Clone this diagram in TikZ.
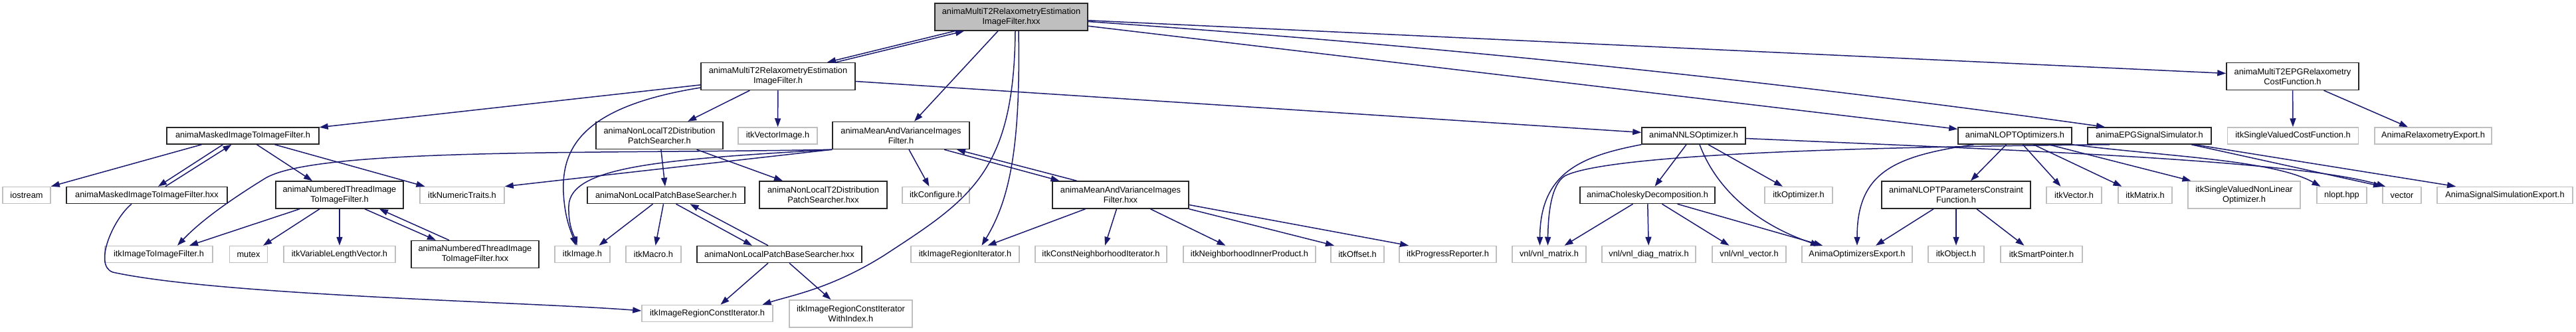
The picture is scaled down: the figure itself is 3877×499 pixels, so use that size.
\documentclass[tikz,border=0pt]{standalone}
\usepackage{fontspec}
\setmainfont{Liberation Sans}
\usetikzlibrary{arrows.meta,positioning}
\definecolor{edgeblue}{HTML}{191970}
\definecolor{nodegray}{HTML}{BFBFBF}

\begin{document}
\begin{tikzpicture}[x=1pt, y=-1pt,
  file/.style={rectangle, draw=black!85, line width=1.5pt, fill=white,
    font=\fontsize{12.8}{15}\selectfont, align=center, inner sep=0pt,
    minimum height=25pt},
  ext/.style={file, draw=nodegray},
  cur/.style={file, fill=nodegray},
  two/.style={minimum height=41pt},
  arr/.style={-{Triangle[length=13pt, width=9pt]}, draw=edgeblue, line width=1.5pt}
]
  \path[use as bounding box, fill=white] (0,0) rectangle (3877,499);

  \node[cur, two, minimum width=230] (hxx) at (1522,25.5) {animaMultiT2RelaxometryEstimation\\ImageFilter.hxx};
  \node[file, two, minimum width=232] (filt) at (1171,115) {animaMultiT2RelaxometryEstimation\\ImageFilter.h};
  \node[file, two, minimum width=199] (cost) at (3450.5,115) {animaMultiT2EPGRelaxometry\\CostFunction.h};

  \node[file, minimum width=229] (mask) at (365.5,204.5) {animaMaskedImageToImageFilter.h};
  \node[file, two, minimum width=191] (t2ps) at (992.5,204) {animaNonLocalT2Distribution\\PatchSearcher.h};
  \node[ext, minimum width=119] (vimg) at (1170.5,204.5) {itkVectorImage.h};
  \node[file, two, minimum width=206] (mav) at (1356,204) {animaMeanAndVarianceImages\\Filter.h};
  \node[file, minimum width=156] (nnls) at (2549,204.5) {animaNNLSOptimizer.h};
  \node[file, minimum width=171] (nlopt) at (3032.5,204.5) {animaNLOPTOptimizers.h};
  \node[file, minimum width=186] (epg) at (3235,204.5) {animaEPGSignalSimulator.h};
  \node[ext, minimum width=197] (svcf) at (3451,204.5) {itkSingleValuedCostFunction.h};
  \node[ext, minimum width=176] (relexp) at (3662,204.5) {AnimaRelaxometryExport.h};

  \node[ext, minimum width=72] (iostr) at (40,294) {iostream};
  \node[file, minimum width=242] (maskx) at (221,294) {animaMaskedImageToImageFilter.hxx};
  \node[file, two, minimum width=192] (numth) at (511,293.5) {animaNumberedThreadImage\\ToImageFilter.h};
  \node[ext, minimum width=127] (ntraits) at (695.5,294) {itkNumericTraits.h};
  \node[file, minimum width=237] (nlpbs) at (1002.5,294) {animaNonLocalPatchBaseSearcher.h};
  \node[file, two, minimum width=192] (t2psx) at (1239,293.5) {animaNonLocalT2Distribution\\PatchSearcher.hxx};
  \node[ext, minimum width=101] (itkcfg) at (1408.5,294) {itkConfigure.h};
  \node[file, two, minimum width=205] (mavx) at (1686.5,293.5) {animaMeanAndVarianceImages\\Filter.hxx};
  \node[file, minimum width=203] (chol) at (2479.5,294) {animaCholeskyDecomposition.h};
  \node[ext, minimum width=102] (itkopt) at (2707,294) {itkOptimizer.h};
  \node[file, two, minimum width=224] (nlpc) at (2944,293.5) {animaNLOPTParametersConstraint\\Function.h};
  \node[ext, minimum width=83] (itkvec) at (3121.5,294) {itkVector.h};
  \node[ext, minimum width=81] (itkmat) at (3228.5,294) {itkMatrix.h};
  \node[ext, two, minimum width=169] (svnlo) at (3377.5,293.5) {itkSingleValuedNonLinear\\Optimizer.h};
  \node[ext, minimum width=75] (nlhpp) at (3524.5,294) {nlopt.hpp};
  \node[ext, minimum width=58] (stdvec) at (3615,294) {vector};
  \node[ext, minimum width=204] (sigexp) at (3770,294) {AnimaSignalSimulationExport.h};

  \node[ext, minimum width=162] (i2i) at (239,383) {itkImageToImageFilter.h};
  \node[ext, minimum width=57] (mutex) at (374,383) {mutex};
  \node[ext, minimum width=168] (vlv) at (511,383) {itkVariableLengthVector.h};
  \node[file, two, minimum width=192] (numthx) at (715,383) {animaNumberedThreadImage\\ToImageFilter.hxx};
  \node[ext, minimum width=83] (itkimg) at (876.5,383) {itkImage.h};
  \node[ext, minimum width=83] (itkmac) at (983.5,383) {itkMacro.h};
  \node[file, minimum width=248] (nlpbsx) at (1173,383) {animaNonLocalPatchBaseSearcher.hxx};
  \node[ext, minimum width=163] (rit) at (1452.5,383) {itkImageRegionIterator.h};
  \node[ext, minimum width=198] (cnit) at (1657,383) {itkConstNeighborhoodIterator.h};
  \node[ext, minimum width=199] (nip) at (1880.5,383) {itkNeighborhoodInnerProduct.h};
  \node[ext, minimum width=80] (itkoff) at (2043,383) {itkOffset.h};
  \node[ext, minimum width=146] (prog) at (2179,383) {itkProgressReporter.h};
  \node[ext, minimum width=111] (vnlmat) at (2331.5,383) {vnl/vnl\_matrix.h};
  \node[ext, minimum width=141] (vnldiag) at (2481.5,383) {vnl/vnl\_diag\_matrix.h};
  \node[ext, minimum width=111] (vnlvec) at (2632.5,383) {vnl/vnl\_vector.h};
  \node[ext, minimum width=166] (optexp) at (2795,383) {AnimaOptimizersExport.h};
  \node[ext, minimum width=84] (itkobj) at (2944,383) {itkObject.h};
  \node[ext, minimum width=123] (sptr) at (3072.5,383) {itkSmartPointer.h};

  \node[ext, minimum width=197] (rcit) at (1064.5,472) {itkImageRegionConstIterator.h};
  \node[ext, two, minimum width=185] (rcitw) at (1280.5,472.5) {itkImageRegionConstIterator\\WithIndex.h};

  \draw[arr] ([xshift=-85]hxx.south) -- ([xshift=74]filt.north);
  \draw[arr] ([xshift=87]filt.north) -- ([xshift=-71]hxx.south);
  \draw[arr] ([xshift=-20]hxx.south) -- ([xshift=20]mav.north);
  \draw[arr] ([xshift=11]hxx.south) .. controls (1536,220) and (1520,300) .. ([xshift=25]rit.north);
  \draw[arr] ([xshift=6]hxx.south) .. controls (1526,260) and (1460,300) .. (1330,385)
    .. controls (1250,435) and (1190,445) .. ([xshift=83]rcit.north);
  \draw[arr] (hxx) -- (cost);
  \draw[arr] (hxx) -- (nlopt);
  \draw[arr] ([yshift=-7]hxx.east) .. controls (2150,68) and (2660,120) .. ([xshift=-67]epg.north);

  \draw[arr] (filt) -- (mask);
  \draw[arr] (filt) -- (t2ps);
  \draw[arr] (filt) -- (vimg);
  \draw[arr] ([yshift=-17]filt.west) .. controls (880,160) and (845,220) .. (848,290)
    .. controls (850,330) and (860,350) .. ([xshift=-10]itkimg.north);
  \draw[arr] (filt) -- (nnls);

  \draw[arr] ([xshift=-62]mask.south) -- (iostr.north east);
  \draw[arr] ([xshift=-30]mask.south) -- ([xshift=17]maskx.north);
  \draw[arr] ([xshift=28]maskx.north) -- ([xshift=-17]mask.south);
  \draw[arr] ([xshift=21]mask.south) -- ([xshift=-41]numth.north);
  \draw[arr] ([xshift=48]mask.south) -- ([xshift=-56]ntraits.north);
  \draw[arr] ([xshift=-23]maskx.south) .. controls (170,330) and (140,400) .. (170,410)
    .. controls (330,445) and (800,455) .. ([yshift=4]rcit.west);

  \draw[arr] ([xshift=-60]numth.south) -- ([xshift=46]i2i.north);
  \draw[arr] ([xshift=-30]numth.south) -- ([xshift=22]mutex.north);
  \draw[arr] (numth) -- (vlv);
  \draw[arr] ([xshift=38]numth.south) -- ([xshift=-59]numthx.north);
  \draw[arr] ([xshift=-39]numthx.north) -- ([xshift=60]numth.south);

  \draw[arr] (t2ps) -- (nlpbs);
  \draw[arr] ([xshift=56]t2ps.south) -- ([xshift=-61]t2psx.north);

  \draw[arr] ([xshift=-20]nlpbs.south) -- ([xshift=25]itkimg.north);
  \draw[arr] ([xshift=-4]nlpbs.south) -- ([xshift=3]itkmac.north);
  \draw[arr] ([xshift=15]nlpbs.south) -- ([xshift=-41]nlpbsx.north);
  \draw[arr] ([xshift=-17]nlpbsx.north) -- ([xshift=36]nlpbs.south);
  \draw[arr] ([xshift=-17]nlpbsx.south) -- ([xshift=20]rcit.north);
  \draw[arr] ([xshift=15]nlpbsx.south) -- ([xshift=-30]rcitw.north);

  \draw[arr] (mav.south west) -- (ntraits.north east);
  \draw[arr] (mav.south west) .. controls (900,232) and (480,222) .. (400,268)
    .. controls (340,305) and (300,335) .. ([xshift=28]i2i.north);
  \draw[arr] (mav.south west) .. controls (1000,240) and (858,250) .. (856,310)
    .. controls (855,340) and (864,355) .. ([xshift=-8]itkimg.north);
  \draw[arr] ([xshift=12]mav.south) -- ([xshift=-10]itkcfg.north);
  \draw[arr] ([xshift=65]mav.south) -- ([xshift=-92]mavx.north);
  \draw[arr] ([xshift=-66]mavx.north) -- ([xshift=84]mav.south);

  \draw[arr] ([xshift=-53]mavx.south) -- ([xshift=34]rit.north);
  \draw[arr] ([xshift=-6]mavx.south) -- ([xshift=6]cnit.north);
  \draw[arr] ([xshift=45]mavx.south) -- ([xshift=-36]nip.north);
  \draw[arr] (mavx.south east) -- ([xshift=-35]itkoff.north);
  \draw[arr] ([yshift=-15]mavx.east) -- ([xshift=-59]prog.north);

  \draw[arr] (nnls.south west) .. controls (2380,235) and (2318,260) .. ([xshift=-14]vnlmat.north);
  \draw[arr] ([xshift=-11]nnls.south) -- ([xshift=11]chol.north);
  \draw[arr] ([xshift=9]nnls.south) .. controls (2585,290) and (2650,340) .. ([xshift=-57]optexp.north);
  \draw[arr] ([xshift=22]nnls.south) -- ([xshift=-24]itkopt.north);
  \draw[arr] ([yshift=-4]nnls.east) .. controls (3000,225) and (3450,240) .. ([xshift=-25]stdvec.north);

  \draw[arr] ([xshift=-22]chol.south) -- ([xshift=23]vnlmat.north);
  \draw[arr] (chol) -- (vnldiag);
  \draw[arr] ([xshift=22]chol.south) -- ([xshift=-30]vnlvec.north);
  \draw[arr] ([xshift=45]chol.south) -- ([xshift=-52]optexp.north);

  \draw[arr] ([xshift=-62]nlopt.south) .. controls (2850,235) and (2795,260) .. (optexp.north);
  \draw[arr] ([xshift=-13]nlopt.south) -- ([xshift=22]nlpc.north);
  \draw[arr] ([xshift=12]nlopt.south) -- ([xshift=-20]itkvec.north);
  \draw[arr] ([xshift=28]nlopt.south) -- ([xshift=-35]itkmat.north);
  \draw[arr] ([xshift=51]nlopt.south) -- ([xshift=-80]svnlo.north);
  \draw[arr] (nlopt.south east) .. controls (3250,235) and (3420,240) .. ([xshift=-32]nlhpp.north);

  \draw[arr] ([xshift=-34]nlpc.south) -- ([xshift=28]optexp.north);
  \draw[arr] (nlpc) -- (itkobj);
  \draw[arr] ([xshift=31]nlpc.south) -- ([xshift=-26]sptr.north);

  \draw[arr] ([xshift=-60]epg.south) .. controls (2700,222) and (2410,237) .. (2355,265)
    .. controls (2335,278) and (2330,320) .. ([xshift=-2]vnlmat.north);
  \draw[arr] ([xshift=63]epg.south) -- ([xshift=-30]stdvec.north);
  \draw[arr] ([xshift=68]epg.south) -- ([xshift=-74]sigexp.north);

  \draw[arr] (cost) -- (svcf);
  \draw[arr] ([xshift=47]cost.south) -- ([xshift=-38]relexp.north);
\end{tikzpicture}
\end{document}
